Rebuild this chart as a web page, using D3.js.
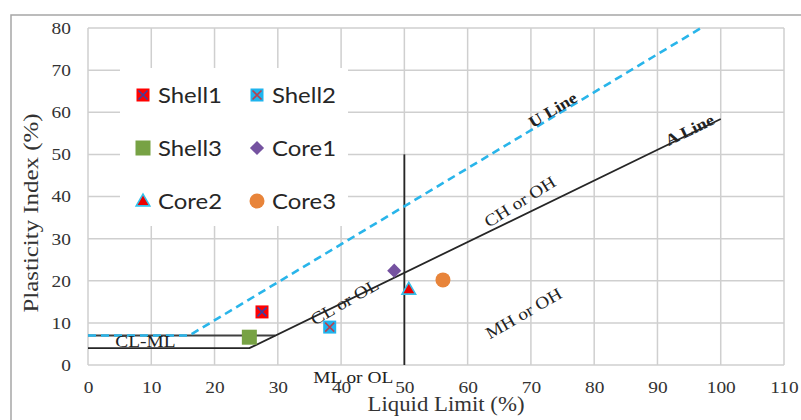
<!DOCTYPE html>
<html>
<head>
<meta charset="utf-8">
<script src="https://cdn.jsdelivr.net/npm/d3@7"></script>
<style>
  body { margin: 0; background: #fff; }
  svg { display: block; }
</style>
</head>
<body>
<svg id="chart" width="801" height="420"></svg>
<script>
// data
const seriesNames = ["Shell1", "Shell2", "Shell3", "Core1", "Core2", "Core3"];
const liquidLimit = [27.5, 38.2, 25.5, 48.4, 50.7, 56.1];
const plasticityIndex = [12.6, 9.0, 6.6, 22.4, 18.0, 20.2];

const xTicks = [0, 10, 20, 30, 40, 50, 60, 70, 80, 90, 100, 110];
const yTicks = [0, 10, 20, 30, 40, 50, 60, 70, 80];

// chart lines
const uLineLL = [0, 16, 96.9];
const uLinePI = [7, 7, 80];
const aLineLL = [0, 25.5, 100];
const aLinePI = [4, 4, 58.4];
const clmlLL = [0, 29.6];
const clmlPI = [7, 7];
const llDivLL = [50, 50];
const llDivPI = [0, 50];

const svg = d3.select("#chart");
const margins = [28, 17, 55, 88]; // top, right, bottom, left
const W = 801, H = 420;
const [mt, mr, mb, ml] = margins;
const stretch = 1.14; // the picture's text is a bit wide

const x = d3.scaleLinear().domain([0, 110]).range([ml, W - mr]);
const y = d3.scaleLinear().domain([0, 80]).range([H - mb, mt]);

const serif = "'Liberation Serif', 'Times New Roman', serif";
const sans = "Lato, Calibri, sans-serif";

// outer frame
svg.append("path")
  .attr("d", `M801,15 H11 V420`)
  .attr("fill", "none")
  .attr("stroke", "#a6a6a6")
  .attr("stroke-width", 1.5);

// grid
const grid = svg.append("g").attr("stroke", "#cfcfcf").attr("stroke-width", 1.5);
grid.selectAll(".gx").data(xTicks).join("line")
  .attr("x1", (d) => x(d)).attr("x2", (d) => x(d))
  .attr("y1", y(0)).attr("y2", y(80));
grid.selectAll(".gy").data(yTicks).join("line")
  .attr("x1", x(0)).attr("x2", x(110))
  .attr("y1", (d) => y(d)).attr("y2", (d) => y(d));

// tick labels
svg.append("g")
  .attr("transform", `translate(0, ${y(0)})`)
  .call(d3.axisBottom(x).tickValues(xTicks).tickSize(0).tickPadding(16).tickFormat(d3.format("d")))
  .call((g) => g.select(".domain").remove())
  .selectAll("text")
  .attr("transform", `scale(${stretch},1)`)
  .attr("font-family", serif).attr("font-size", "17px").attr("fill", "#333");

svg.append("g")
  .attr("transform", `translate(${x(0)}, 0)`)
  .call(d3.axisLeft(y).tickValues(yTicks).tickSize(0).tickPadding(15).tickFormat(d3.format("d")))
  .call((g) => g.select(".domain").remove())
  .selectAll("text")
  .attr("transform", `scale(${stretch},1)`)
  .attr("font-family", serif).attr("font-size", "17px").attr("fill", "#333");

// axis titles
svg.append("text")
  .attr("transform", `translate(446, 411) scale(${stretch},1)`)
  .attr("text-anchor", "middle")
  .attr("font-family", serif).attr("font-size", "20px").attr("fill", "#333")
  .text("Liquid Limit (%)");

svg.append("text")
  .attr("transform", "translate(38, 213) rotate(-90)")
  .attr("text-anchor", "middle")
  .attr("font-family", serif).attr("font-size", "20px").attr("fill", "#333")
  .attr("textLength", 199).attr("lengthAdjust", "spacingAndGlyphs")
  .text("Plasticity  Index (%)");

// legend background hides grid
svg.append("rect")
  .attr("x", 120).attr("y", 68).attr("width", 228).attr("height", 158)
  .attr("fill", "#fff");

// lines
const line = d3.line().x((d) => x(d[0])).y((d) => y(d[1]));
const pairs = (a, b) => a.map((v, i) => [v, b[i]]);

svg.append("path").datum(pairs(clmlLL, clmlPI))
  .attr("d", line).attr("fill", "none").attr("stroke", "#404040").attr("stroke-width", 1.8);
svg.append("path").datum(pairs(aLineLL, aLinePI))
  .attr("d", line).attr("fill", "none").attr("stroke", "#262626").attr("stroke-width", 1.8)
  .attr("stroke-linejoin", "round");
svg.append("path").datum(pairs(llDivLL, llDivPI))
  .attr("d", line).attr("fill", "none").attr("stroke", "#262626").attr("stroke-width", 1.8);
svg.append("path").datum(pairs(uLineLL, uLinePI))
  .attr("d", line).attr("fill", "none").attr("stroke", "#29b5ea").attr("stroke-width", 2.6)
  .attr("stroke-dasharray", "8,5");

// zone labels
function zoneLabel(txt, ll, pi, angle, opts = {}) {
  svg.append("text")
    .attr("transform", `translate(${x(ll)}, ${y(pi)}) rotate(${angle}) scale(${stretch},1)`)
    .attr("text-anchor", opts.anchor || "middle")
    .attr("dominant-baseline", "middle")
    .attr("font-family", serif)
    .attr("font-size", opts.size || "17px")
    .attr("font-weight", opts.bold ? "bold" : "normal")
    .attr("fill", "#222")
    .text(txt);
}
zoneLabel("U Line", 73.6, 60.2, -31, { bold: true, size: "16px" });
zoneLabel("A Line", 95.2, 55.4, -26, { bold: true, size: "16px" });
zoneLabel("CH or OH", 68.4, 38.4, -32);
zoneLabel("CL or OL", 40.7, 14.6, -30);
zoneLabel("MH or OH", 69, 11.9, -30);
zoneLabel("CL-ML", 4.3, 5.1, 0, { anchor: "start" });

svg.append("text")
  .attr("transform", `translate(${x(35.6)}, ${y(0) + 18}) scale(${stretch},1)`)
  .attr("font-family", serif).attr("font-size", "17px").attr("fill", "#222")
  .text("ML or OL");

// markers
const fills = ["#ff0000", "#1fb4ee", "#77a244", "#7552a0", "#ee0000", "#e8843a"];
const crossColor = ["#3f3f9f", "#b64150"];

function drawMarker(g, i, cx, cy) {
  const name = seriesNames[i];
  if (name === "Shell1" || name === "Shell2") {
    g.append("rect").attr("x", cx - 6.5).attr("y", cy - 6.5).attr("width", 13).attr("height", 13)
      .attr("fill", fills[i]);
    g.append("path")
      .attr("d", `M${cx - 4.5},${cy - 4.5}L${cx + 4.5},${cy + 4.5}M${cx + 4.5},${cy - 4.5}L${cx - 4.5},${cy + 4.5}`)
      .attr("stroke", crossColor[i]).attr("stroke-width", 1.6);
  } else if (name === "Shell3") {
    g.append("rect").attr("x", cx - 7.5).attr("y", cy - 7.5).attr("width", 15).attr("height", 15)
      .attr("fill", fills[i]);
  } else if (name === "Core1") {
    g.append("path").attr("transform", `translate(${cx},${cy}) rotate(45)`)
      .attr("d", d3.symbol(d3.symbolSquare, 100)).attr("fill", fills[i]);
  } else if (name === "Core2") {
    g.append("path").attr("transform", `translate(${cx},${cy + 1})`)
      .attr("d", d3.symbol(d3.symbolTriangle, 80)).attr("fill", fills[i])
      .attr("stroke", "#35c0ea").attr("stroke-width", 1.6);
  } else {
    g.append("circle").attr("cx", cx).attr("cy", cy).attr("r", 7.5).attr("fill", fills[i]);
  }
}

const pts = svg.append("g");
seriesNames.forEach((name, i) => {
  drawMarker(pts, i, x(liquidLimit[i]), y(plasticityIndex[i]));
});

// legend
const legend = svg.append("g");
seriesNames.forEach((name, i) => {
  const col = i % 2, row = Math.floor(i / 2);
  const lx = 143 + col * 114, ly = 95 + row * 53;
  drawMarker(legend, i, lx, ly);
  legend.append("text")
    .attr("transform", `translate(${lx + 15}, ${ly}) scale(${stretch},1)`)
    .attr("dominant-baseline", "central")
    .attr("font-family", sans).attr("font-size", "21px").attr("fill", "#262626")
    .text(name);
});
</script>
</body>
</html>
